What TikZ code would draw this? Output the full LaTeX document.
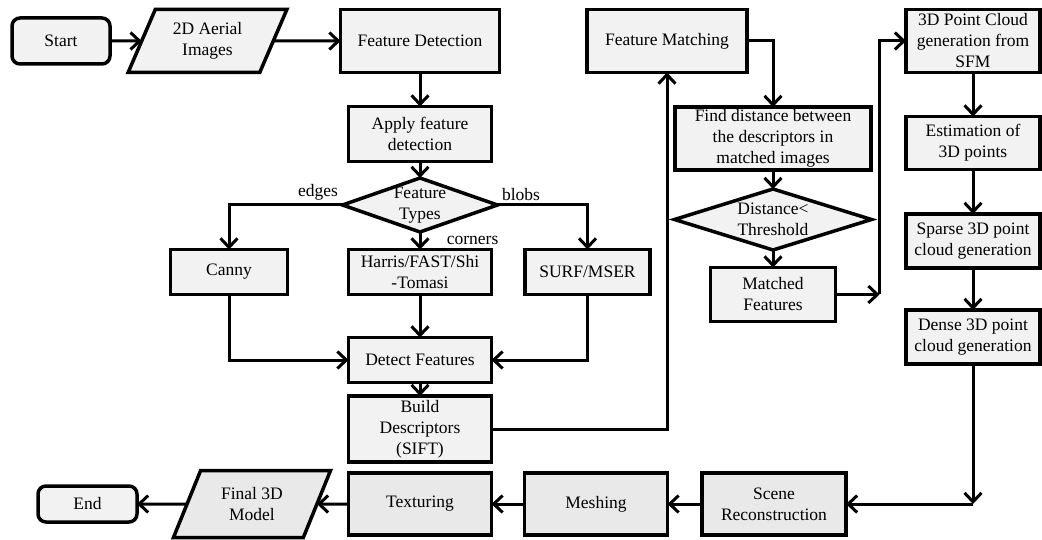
\documentclass[tikz,border=0pt]{standalone}
\usepackage{fontspec}
\setmainfont{Liberation Serif}
\usepackage{tikz}
\usetikzlibrary{positioning, shapes.geometric, arrows.meta, calc}
\definecolor{boxline}{HTML}{000000}
\definecolor{boxfill}{HTML}{F2F2F2}
\definecolor{boxfilldark}{HTML}{E9E9E9}

\begin{document}
\begin{tikzpicture}[x=1pt, y=-1pt,
 font=\fontsize{17.5}{21}\selectfont,
 blk/.style={draw=boxline, line width=3.5pt, fill=boxfill, align=center, inner sep=2pt, outer sep=0pt},
 term/.style={blk, rounded corners=8pt},
 io/.style={blk, trapezium, trapezium left angle=65, trapezium right angle=115, trapezium stretches=true},
 dec/.style={blk, diamond, inner sep=0pt},
 link/.style={line width=3pt, -{Straight Barb[length=9pt,width=17pt]}}]
\useasboundingbox (0,0) rectangle (1042,540);

% top row
\node[term, minimum width=98pt, minimum height=46pt](start) at (61,41){Start};
\node[io, minimum width=159pt, minimum height=63pt](aerial) at (207.5,41){2D Aerial\\Images};
\node[blk, minimum width=159pt, minimum height=63pt](fdetect) at (420,41){Feature Detection};
\node[blk, minimum width=160pt, minimum height=63pt](fmatch) at (667,41){Feature Matching};
\node[blk, minimum width=134pt, minimum height=63pt](cloud) at (973,41){3D Point Cloud\\generation from\\SFM};

% detection column
\node[blk, below=34pt of fdetect, minimum width=143pt, minimum height=55pt](apply){Apply feature\\detection};
\node[dec, below=16.5pt of apply, minimum width=155pt, minimum height=54pt,
  label={[align=center]center:Feature\\Types}](ftype){};
\node[blk, below=17.5pt of ftype, minimum width=143pt, minimum height=45pt](harris){Harris/FAST/Shi\\-Tomasi};
\node[blk, left=61pt of harris, minimum width=117pt, minimum height=45pt](canny){Canny};
\node[blk, right=33.5pt of harris, minimum width=125pt, minimum height=45pt](surf){SURF/MSER};
\node[blk, below=43pt of harris, minimum width=143pt, minimum height=45pt](detect){Detect Features};
\node[blk, below=13.5pt of detect, minimum width=143pt, minimum height=66pt](build){Build\\Descriptors\\(SIFT)};

% matching column
\node[blk, minimum width=196pt, minimum height=63pt](fdist) at (773,138.5){Find distance between\\the descriptors in\\matched images};
\node[dec, below=19pt of fdist, minimum width=197pt, minimum height=61pt,
  label={[align=center]center:Distance<\\Threshold}](thresh){};
\node[blk, below=17.5pt of thresh, minimum width=125pt, minimum height=54pt](matched){Matched\\Features};
\coordinate[right=44pt of matched.east](mturn);

% cloud column
\node[blk, below=44pt of cloud, minimum width=134pt, minimum height=53pt](estim){Estimation of\\3D points};
\node[blk, below=44.5pt of estim, minimum width=134pt, minimum height=54pt](sparse){Sparse 3D point\\cloud generation};
\node[blk, below=42pt of sparse, minimum width=134pt, minimum height=54pt](dense){Dense 3D point\\cloud generation};

% bottom row
\node[blk, fill=boxfilldark, minimum width=143pt, minimum height=62pt](textur) at (420,504){Texturing};
\node[blk, fill=boxfilldark, right=33pt of textur, minimum width=143pt, minimum height=62pt](mesh){Meshing};
\node[blk, fill=boxfilldark, right=34.5pt of mesh, minimum width=144pt, minimum height=62pt](scene){Scene\\Reconstruction};
\node[io, fill=boxfilldark, minimum width=158pt, minimum height=67pt](final) at (252,504){Final 3D\\Model};
\node[term, minimum width=99pt, minimum height=36pt](finish) at (87.5,504){End};
\coordinate (dturn) at (dense.south |- scene.east);

\draw[link](start)--(aerial);
\draw[link](aerial)--(fdetect);
\draw[link](fdetect)--(apply);
\draw[link](apply)--(ftype);
\draw[link](ftype.west) node[above left, inner sep=3pt]{edges} -| (canny);
\draw[link](ftype.east) node[above right, inner sep=3pt]{blobs} -| (surf);
\draw[link](ftype)--node[right=22pt]{corners}(harris);
\draw[link](harris)--(detect);
\draw[link](canny) |- (detect);
\draw[link](surf) |- (detect);
\draw[link](detect)--(build);
\draw[link](build) -| (fmatch);
\draw[link](fmatch) -| (fdist);
\draw[link](fdist)--(thresh);
\draw[link](thresh)--(matched);
\draw[link](matched)--(mturn);
\draw[link](mturn) |- (cloud);
\draw[link](cloud)--(estim);
\draw[link](estim)--(sparse);
\draw[link](sparse)--(dense);
\draw[link](dense)--(dturn);
\draw[link](dturn)--(scene);
\draw[link](scene)--(mesh);
\draw[link](mesh)--(textur);
\draw[link](textur)--(final);
\draw[link](final)--(finish);

\end{tikzpicture}
\end{document}
